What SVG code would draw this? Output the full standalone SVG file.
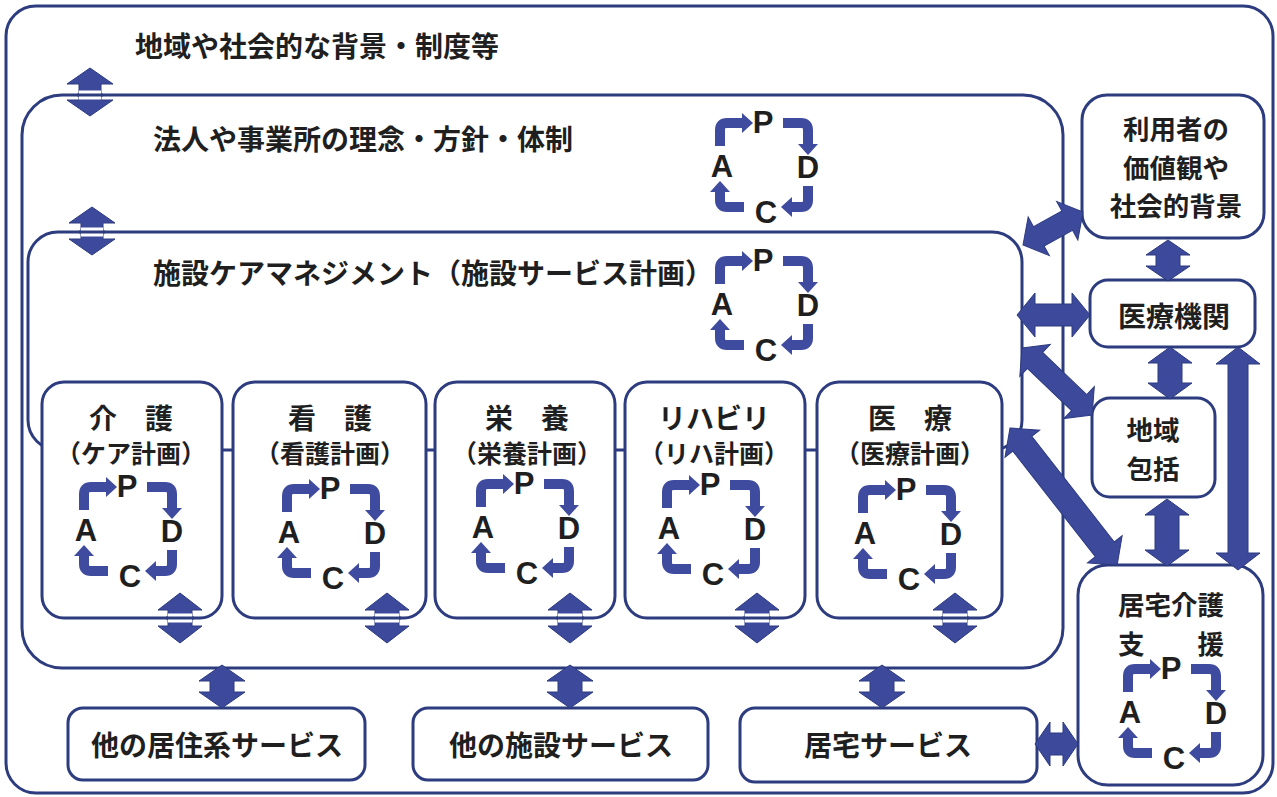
<svg xmlns="http://www.w3.org/2000/svg" width="1277" height="797" viewBox="0 0 1277 797">
<style>
.frame{fill:none;stroke:#2d3c7e;stroke-width:3}
.box{fill:#fff;stroke:#2d3c7e;stroke-width:3}
.t{font-family:"Noto Sans CJK JP","Noto Sans CJK SC",sans-serif;font-weight:700;fill:#1f1f1f;font-size:28px;dominant-baseline:central}
.c{text-anchor:middle}
.s{font-size:25px}
.m{font-size:26.5px}
.arr{fill:#3d4a9c;stroke:#2c3a80;stroke-width:1}
.pl{font-family:"Liberation Sans",Arial,sans-serif;font-weight:700;font-size:31px;fill:#1f1f1f;text-anchor:middle}
.ps{fill:none;stroke:#3f4b9e;stroke-width:10;stroke-linejoin:round}
.ph{fill:#3f4b9e}
.gap{stroke:#fff;stroke-width:9}
.ln{stroke:#2d3c7e;stroke-width:3}
</style>
<defs>
<g id="pdca">
<path class="ps" d="M-44,-20 V-36 Q-44,-43 -37,-43 H-22"/>
<polygon class="ph" points="-22,-53 -11,-43 -22,-33"/>
<path class="ps" d="M19,-43 H37 Q44,-43 44,-36 V-22"/>
<polygon class="ph" points="34,-22 44,-11 54,-22"/>
<path class="ps" d="M44,20 V34 Q44,41 37,41 H28"/>
<polygon class="ph" points="28,31 17,41 28,51"/>
<path class="ps" d="M-20,41 H-37 Q-44,41 -44,34 V26"/>
<polygon class="ph" points="-54,26 -44,15 -34,26"/>
<text class="pl" x="-1" y="-33">P</text>
<text class="pl" x="44" y="12">D</text>
<text class="pl" x="-42" y="11">A</text>
<text class="pl" x="2" y="57">C</text>
</g>
</defs>

<g id="background-frame">
<rect class="frame" x="6" y="6" width="1267" height="787" rx="30"/>
<text class="t" x="135" y="45">地域や社会的な背景・制度等</text>
</g>

<g id="houjin">
<rect class="frame" x="22" y="95" width="1041" height="573" rx="40"/>
<text class="t" x="153" y="138">法人や事業所の理念・方針・体制</text>
<use href="#pdca" x="764" y="166"/>
</g>

<g id="shisetsu-care">
<rect class="frame" x="28" y="232" width="994" height="218" rx="30"/>
<text class="t" x="153" y="272">施設ケアマネジメント（施設サービス計画）</text>
<use href="#pdca" x="764" y="304"/>
</g>

<g id="kaigo">
<rect class="box" x="42" y="382" width="180" height="236" rx="22"/>
<text class="t c" x="131" y="417">介　護<tspan class="s" x="131" dy="35">（ケア計画）</tspan></text>
<use href="#pdca" x="128" y="530"/>
</g>

<g id="kango">
<rect class="box" x="233" y="382" width="193" height="236" rx="22"/>
<text class="t c" x="330" y="417">看　護<tspan class="s" x="330" dy="35">（看護計画）</tspan></text>
<use href="#pdca" x="331" y="532"/>
</g>

<g id="eiyou">
<rect class="box" x="435" y="382" width="180" height="236" rx="22"/>
<text class="t c" x="527" y="417">栄　養<tspan class="s" x="527" dy="35">（栄養計画）</tspan></text>
<use href="#pdca" x="525" y="527"/>
</g>

<g id="rehab">
<rect class="box" x="625" y="382" width="180" height="236" rx="22"/>
<text class="t c" x="714" y="417">リハビリ<tspan class="s" x="714" dy="35">（リハ計画）</tspan></text>
<use href="#pdca" x="711" y="528"/>
</g>

<g id="iryou">
<rect class="box" x="817" y="382" width="185" height="236" rx="22"/>
<text class="t c" x="910" y="417">医　療<tspan class="s" x="910" dy="35">（医療計画）</tspan></text>
<use href="#pdca" x="907" y="533"/>
</g>

<g id="riyousha">
<rect class="box" x="1082" y="95" width="182" height="143" rx="25"/>
<text class="t c m" x="1176" y="127">利用者の<tspan x="1176" dy="38.5">価値観や</tspan><tspan x="1176" dy="38.5">社会的背景</tspan></text>
</g>

<g id="iryoukikan">
<rect class="box" x="1090" y="280" width="165" height="67" rx="18"/>
<text class="t c" x="1174" y="315">医療機関</text>
</g>

<g id="chiikihoukatsu">
<rect class="box" x="1092" y="398" width="123" height="99" rx="18"/>
<text class="t c m" x="1153" y="428">地域<tspan x="1153" dy="38.5">包括</tspan></text>
</g>

<g id="kyotaku-shien">
<rect class="box" x="1078" y="565" width="185" height="220" rx="30"/>
<text class="t c m" x="1171" y="603">居宅介護<tspan x="1171" dy="38.5">支　　援</tspan></text>
<use href="#pdca" x="1172" y="712"/>
</g>

<g id="other-residential">
<rect class="box" x="68" y="708" width="297" height="72" rx="15"/>
<text class="t c" x="217" y="744">他の居住系サービス</text>
</g>

<g id="other-facility">
<rect class="box" x="413" y="708" width="295" height="72" rx="15"/>
<text class="t c" x="561" y="744">他の施設サービス</text>
</g>

<g id="home-service">
<rect class="box" x="740" y="708" width="297" height="74" rx="15"/>
<text class="t c" x="888" y="744">居宅サービス</text>
</g>

<g id="connectors">
<polygon class="arr" points="90,68 113,84 101,84 101,100 113,100 90,116 67,100 79,100 79,84 67,84"/>
<line class="gap" x1="79" y1="95" x2="101" y2="95"/><line class="ln" x1="77" y1="95" x2="103" y2="95"/>
<polygon class="arr" points="92,207 115,223 103,223 103,239 115,239 92,255 69,239 81,239 81,223 69,223"/>
<line class="gap" x1="81" y1="232" x2="103" y2="232"/><line class="ln" x1="79" y1="232" x2="105" y2="232"/>
<polygon class="arr" points="180,593 202,610 192,610 192,626 202,626 180,643 158,626 168,626 168,610 158,610"/>
<line class="gap" x1="168" y1="618" x2="192" y2="618"/><line class="ln" x1="166" y1="618" x2="194" y2="618"/>
<polygon class="arr" points="387,593 409,610 399,610 399,626 409,626 387,643 365,626 375,626 375,610 365,610"/>
<line class="gap" x1="375" y1="618" x2="399" y2="618"/><line class="ln" x1="373" y1="618" x2="401" y2="618"/>
<polygon class="arr" points="570,593 592,610 582,610 582,626 592,626 570,643 548,626 558,626 558,610 548,610"/>
<line class="gap" x1="558" y1="618" x2="582" y2="618"/><line class="ln" x1="556" y1="618" x2="584" y2="618"/>
<polygon class="arr" points="757,593 779,610 769,610 769,626 779,626 757,643 735,626 745,626 745,610 735,610"/>
<line class="gap" x1="745" y1="618" x2="769" y2="618"/><line class="ln" x1="743" y1="618" x2="771" y2="618"/>
<polygon class="arr" points="955,593 977,610 967,610 967,626 977,626 955,643 933,626 943,626 943,610 933,610"/>
<line class="gap" x1="943" y1="618" x2="967" y2="618"/><line class="ln" x1="941" y1="618" x2="969" y2="618"/>
<polygon class="arr" points="222,665 245,681 234,681 234,692 245,692 222,708 199,692 210,692 210,681 199,681"/>
<polygon class="arr" points="570,665 593,681 582,681 582,692 593,692 570,708 547,692 558,692 558,681 547,681"/>
<polygon class="arr" points="882,665 905,681 894,681 894,692 905,692 882,708 859,692 870,692 870,681 859,681"/>
<polygon class="arr" points="1168,240 1190,255 1180,255 1180,266 1190,266 1168,281 1146,266 1156,266 1156,255 1146,255"/>
<polygon class="arr" points="1170,347 1192,363 1182,363 1182,383 1192,383 1170,399 1148,383 1158,383 1158,363 1148,363"/>
<polygon class="arr" points="1167,499 1189,515 1179,515 1179,550 1189,550 1167,566 1145,550 1155,550 1155,515 1145,515"/>
<polygon class="arr" points="1238,347 1260,364 1248,364 1248,553 1260,553 1238,570 1216,553 1228,553 1228,364 1216,364"/>
<polygon class="arr" transform="translate(1023,245) rotate(-28.8)" points="0,0 18,-22 18,-11 50.5,-11 50.5,-22 68.5,0 50.5,22 50.5,11 18,11 18,22"/>
<polygon class="arr" transform="translate(1017,315)" points="0,0 18,-22 18,-11 55,-11 55,-22 73,0 55,22 55,11 18,11 18,22"/>
<polygon class="arr" transform="translate(1022,348) rotate(43.7)" points="0,0 18,-22 18,-11 79,-11 79,-22 97,0 79,22 79,11 18,11 18,22"/>
<polygon class="arr" transform="translate(1010,428) rotate(52)" points="0,0 20,-22 20,-12 154,-12 154,-22 174,0 154,22 154,12 20,12 20,22"/>
<polygon class="arr" transform="translate(1035,744)" points="0,0 15,-22 15,-11 28,-11 28,-22 43,0 28,22 28,11 15,11 15,22"/>
</g>
</svg>
